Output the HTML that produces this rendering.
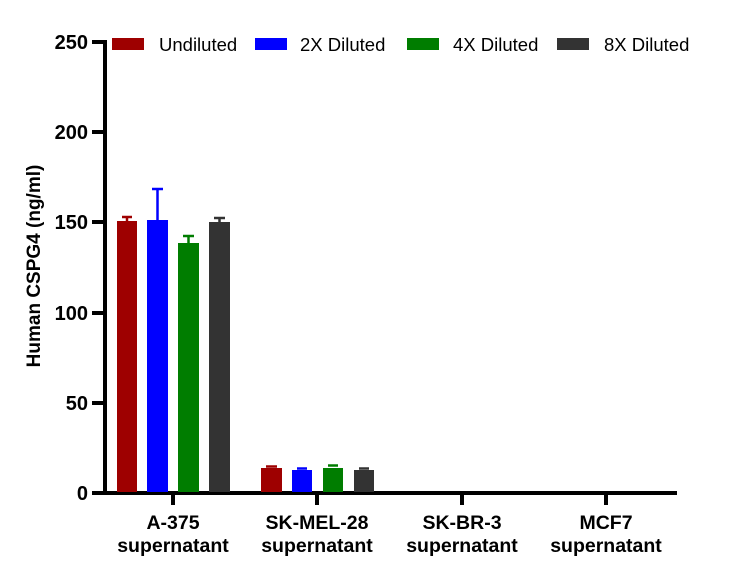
<!DOCTYPE html>
<html><head><style>body{margin:0;background:#fff}svg{display:block}</style></head><body>
<svg width="737" height="575" xmlns="http://www.w3.org/2000/svg" font-family="Liberation Sans, Arial, sans-serif">
<rect width="737" height="575" fill="#fff"/>
<g fill="#000">
<rect x="103" y="40" width="4" height="455"/>
<rect x="103" y="491" width="574" height="4"/>
</g>
<g stroke="#000" stroke-width="4">
<line x1="92" y1="42" x2="105" y2="42"/>
<line x1="92" y1="132" x2="105" y2="132"/>
<line x1="92" y1="222" x2="105" y2="222"/>
<line x1="92" y1="313" x2="105" y2="313"/>
<line x1="92" y1="403" x2="105" y2="403"/>
<line x1="92" y1="493" x2="105" y2="493"/>
<line x1="173" y1="493" x2="173" y2="505"/>
<line x1="317" y1="493" x2="317" y2="505"/>
<line x1="462" y1="493" x2="462" y2="505"/>
<line x1="606" y1="493" x2="606" y2="505"/>
</g>
<g font-size="20" font-weight="bold" text-anchor="end">
<text x="88" y="49">250</text><text x="88" y="139">200</text><text x="88" y="229">150</text>
<text x="88" y="320">100</text><text x="88" y="410">50</text><text x="88" y="500">0</text>
</g>
<text transform="translate(40,266) rotate(-90)" font-size="19" font-weight="bold" text-anchor="middle">Human CSPG4 (ng/ml)</text>
<g font-size="19.5" font-weight="bold" text-anchor="middle">
<text x="173" y="529">A-375</text><text x="173" y="552">supernatant</text>
<text x="317" y="529">SK-MEL-28</text><text x="317" y="552">supernatant</text>
<text x="462" y="529">SK-BR-3</text><text x="462" y="552">supernatant</text>
<text x="606" y="529">MCF7</text><text x="606" y="552">supernatant</text>
</g>
<g stroke-width="2.5">
<rect x="117" y="221" width="20" height="271" fill="#9e0000"/><line x1="127" y1="217" x2="127" y2="221" stroke="#9e0000"/><line x1="122" y1="217" x2="132" y2="217" stroke="#9e0000"/>
<rect x="147" y="220" width="21" height="272" fill="#0000ff"/><line x1="157.5" y1="189" x2="157.5" y2="220" stroke="#0000ff"/><line x1="152" y1="189" x2="163" y2="189" stroke="#0000ff"/>
<rect x="178" y="243" width="21" height="249" fill="#007d00"/><line x1="188.5" y1="236" x2="188.5" y2="243" stroke="#007d00"/><line x1="183" y1="236" x2="194" y2="236" stroke="#007d00"/>
<rect x="209" y="222" width="21" height="270" fill="#333"/><line x1="219.5" y1="218" x2="219.5" y2="222" stroke="#333"/><line x1="214" y1="218" x2="225" y2="218" stroke="#333"/>
<rect x="261" y="468" width="21" height="24" fill="#9e0000"/><line x1="266" y1="466.5" x2="277" y2="466.5" stroke="#9e0000"/>
<rect x="292" y="470" width="20" height="22" fill="#0000ff"/><line x1="297" y1="468.5" x2="307" y2="468.5" stroke="#0000ff"/>
<rect x="323" y="468" width="20" height="24" fill="#007d00"/><line x1="328" y1="465.5" x2="338" y2="465.5" stroke="#007d00"/>
<rect x="354" y="470" width="20" height="22" fill="#333"/><line x1="359" y1="468.5" x2="369" y2="468.5" stroke="#333"/>
</g>
<rect x="112" y="38" width="32" height="12" fill="#9e0000"/>
<rect x="255" y="38" width="32" height="12" fill="#0000ff"/>
<rect x="407" y="38" width="32" height="12" fill="#007d00"/>
<rect x="557" y="38" width="32" height="12" fill="#333"/>
<g font-size="18.5">
<text x="159" y="51">Undiluted</text><text x="300" y="51">2X Diluted</text>
<text x="453" y="51">4X Diluted</text><text x="604" y="51">8X Diluted</text>
</g>
</svg>
</body></html>
